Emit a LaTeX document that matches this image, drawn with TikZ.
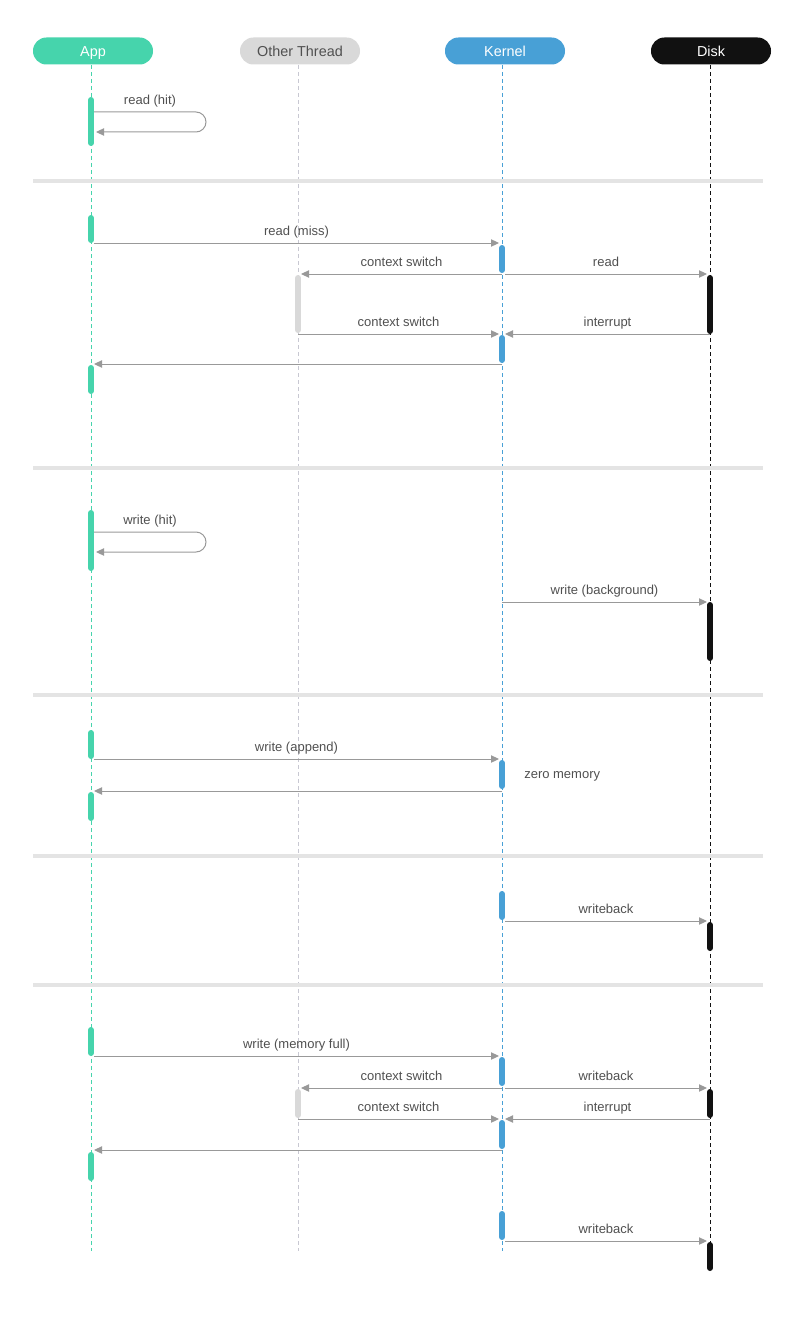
\documentclass[tikz,border=0pt]{standalone}
\usepackage{fontspec}
\setmainfont{Liberation Sans}
\usetikzlibrary{arrows.meta}
\definecolor{appgreen}{HTML}{46D4AC}
\definecolor{kernblue}{HTML}{48A0D6}
\definecolor{othergrey}{HTML}{D9D9D9}
\definecolor{otherline}{HTML}{C8C8D2}
\definecolor{diskblack}{HTML}{111111}
\definecolor{arrowgrey}{HTML}{999999}
\definecolor{textgrey}{HTML}{505050}
\definecolor{sepgrey}{HTML}{E4E4E4}
\begin{document}
\begin{tikzpicture}[x=0.75pt,y=-0.75pt,>={Triangle[length=6pt,width=5.5pt]},
  head/.style={rounded corners=10pt,minimum width=90pt,minimum height=20.25pt,inner sep=0pt,
    text height=9pt,text depth=0pt,font=\fontsize{10.8}{12}\selectfont},
  life/.style={line width=0.75pt,dash pattern=on 3pt off 2.25pt},
  act/.style={line width=4.5pt,line cap=round},
  msg/.style={draw=arrowgrey,line width=0.75pt,->},
  lbl/.style={midway,yshift=8.5pt,inner sep=0pt,text=textgrey,text height=7pt,text depth=2pt,
    font=\fontsize{9.75}{11}\selectfont},
  note/.style={inner sep=0pt,text=textgrey,font=\fontsize{9.75}{11}\selectfont},
  sep/.style={draw=sepgrey,line width=3pt}]
  \useasboundingbox (0,0) rectangle (800,1327);
  % participants
  \node[head,fill=appgreen,text=white] (app) at (93,51) {App};
  \node[head,fill=othergrey,text=textgrey] (other) at (300,51) {Other Thread};
  \node[head,fill=kernblue,text=white] (kernel) at (505,51) {Kernel};
  \node[head,fill=diskblack,text=white] (disk) at (711,51) {Disk};
  \coordinate (appTop) at (91,65);
  \coordinate (appEnd) at (91,1251);
  \coordinate (otherTop) at (298,65);
  \coordinate (otherEnd) at (298,1251);
  \coordinate (kernTop) at (502,65);
  \coordinate (kernEnd) at (502,1251);
  \coordinate (diskTop) at (710,65);
  \coordinate (diskEnd) at (710,1251);
  \draw[life,appgreen] (appTop) -- (appEnd);
  \draw[life,otherline] (otherTop) -- (otherEnd);
  \draw[life,kernblue] (kernTop) -- (kernEnd);
  \draw[life,diskblack] (diskTop) -- (diskEnd);
  % separators
  \draw[sep] (33,181) -- (763,181);
  \draw[sep] (33,468) -- (763,468);
  \draw[sep] (33,695) -- (763,695);
  \draw[sep] (33,856) -- (763,856);
  \draw[sep] (33,985) -- (763,985);
  % activation bars
  \draw[act,appgreen] (91,100) -- (91,143);
  \draw[act,appgreen] (91,218) -- (91,240);
  \draw[act,appgreen] (91,368) -- (91,391);
  \draw[act,appgreen] (91,513) -- (91,568);
  \draw[act,appgreen] (91,733) -- (91,756);
  \draw[act,appgreen] (91,795) -- (91,818);
  \draw[act,appgreen] (91,1030) -- (91,1053);
  \draw[act,appgreen] (91,1155) -- (91,1178);
  \draw[act,kernblue] (502,248) -- (502,270);
  \draw[act,kernblue] (502,338) -- (502,360);
  \draw[act,kernblue] (502,763) -- (502,786);
  \draw[act,kernblue] (502,894) -- (502,917);
  \draw[act,kernblue] (502,1060) -- (502,1083);
  \draw[act,kernblue] (502,1123) -- (502,1146);
  \draw[act,kernblue] (502,1214) -- (502,1237);
  \draw[act,othergrey] (298,278) -- (298,330);
  \draw[act,othergrey] (298,1092) -- (298,1115);
  \draw[act,diskblack] (710,278) -- (710,331);
  \draw[act,diskblack] (710,605) -- (710,658);
  \draw[act,diskblack] (710,925) -- (710,948);
  \draw[act,diskblack] (710,1092) -- (710,1115);
  \draw[act,diskblack] (710,1245) -- (710,1268);
  % read (hit)
  \coordinate (rhitS) at (94,112);
  \coordinate (rhitE) at (96,132);
  \draw[msg,rounded corners=7.5pt] (rhitS) -- (206,112) -- (206,132) -- (rhitE);
  \node[note,anchor=base] (rhitL) at (150,105) {read (hit)};
  % read (miss)
  \coordinate (missA) at (94,243);
  \coordinate (missK) at (499,243);
  \coordinate (cs1K) at (502,274);
  \coordinate (cs1O) at (301,274);
  \coordinate (rdK) at (505,274);
  \coordinate (rdD) at (707,274);
  \coordinate (cs2O) at (298,334);
  \coordinate (cs2K) at (499,334);
  \coordinate (ir1D) at (710,334);
  \coordinate (ir1K) at (505,334);
  \coordinate (ret1K) at (502,364);
  \coordinate (ret1A) at (94,364);
  \draw[msg] (missA) -- (missK) node[lbl] {read (miss)};
  \draw[msg] (cs1K) -- (cs1O) node[lbl] {context switch};
  \draw[msg] (rdK) -- (rdD) node[lbl] {read};
  \draw[msg] (cs2O) -- (cs2K) node[lbl] {context switch};
  \draw[msg] (ir1D) -- (ir1K) node[lbl] {interrupt};
  \draw[msg] (ret1K) -- (ret1A);
  % write (hit)
  \coordinate (whitS) at (94,532);
  \coordinate (whitE) at (96,552);
  \draw[msg,rounded corners=7.5pt] (whitS) -- (206,532) -- (206,552) -- (whitE);
  \node[note,anchor=base] (whitL) at (150,524) {write (hit)};
  \coordinate (bgK) at (502,602);
  \coordinate (bgD) at (707,602);
  \draw[msg] (bgK) -- (bgD) node[lbl] {write (background)};
  % write (append)
  \coordinate (apA) at (94,759);
  \coordinate (apK) at (499,759);
  \coordinate (ret2K) at (502,791);
  \coordinate (ret2A) at (94,791);
  \draw[msg] (apA) -- (apK) node[lbl] {write (append)};
  \draw[msg] (ret2K) -- (ret2A);
  \node[note,anchor=base west] (zeroL) at (524,778) {zero memory};
  % writeback
  \coordinate (wb1K) at (505,921);
  \coordinate (wb1D) at (707,921);
  \draw[msg] (wb1K) -- (wb1D) node[lbl] {writeback};
  % write (memory full)
  \coordinate (fullA) at (94,1056);
  \coordinate (fullK) at (499,1056);
  \coordinate (cs3K) at (502,1088);
  \coordinate (cs3O) at (301,1088);
  \coordinate (wb2K) at (505,1088);
  \coordinate (wb2D) at (707,1088);
  \coordinate (cs4O) at (298,1119);
  \coordinate (cs4K) at (499,1119);
  \coordinate (ir2D) at (710,1119);
  \coordinate (ir2K) at (505,1119);
  \coordinate (ret3K) at (502,1150);
  \coordinate (ret3A) at (94,1150);
  \coordinate (wb3K) at (505,1241);
  \coordinate (wb3D) at (707,1241);
  \draw[msg] (fullA) -- (fullK) node[lbl] {write (memory full)};
  \draw[msg] (cs3K) -- (cs3O) node[lbl] {context switch};
  \draw[msg] (wb2K) -- (wb2D) node[lbl] {writeback};
  \draw[msg] (cs4O) -- (cs4K) node[lbl] {context switch};
  \draw[msg] (ir2D) -- (ir2K) node[lbl] {interrupt};
  \draw[msg] (ret3K) -- (ret3A);
  \draw[msg] (wb3K) -- (wb3D) node[lbl] {writeback};
\end{tikzpicture}
\end{document}
